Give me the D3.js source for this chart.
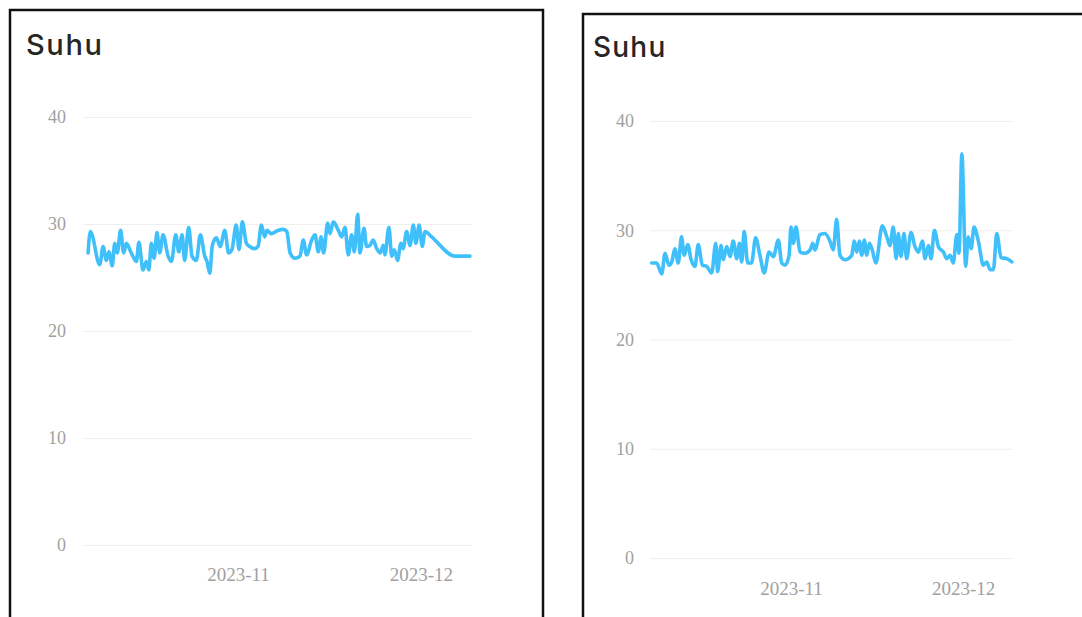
<!DOCTYPE html>
<html>
<head>
<meta charset="utf-8">
<script src="https://cdn.jsdelivr.net/npm/d3@7/dist/d3.min.js"></script>
<style>
  html, body { margin: 0; padding: 0; background: #ffffff; }
  svg { display: block; }
</style>
</head>
<body>
<svg id="chart" width="1082" height="617"></svg>
<script>
// ---------- DATA ----------
const chartTitle = "Suhu";
const yTicks = [0, 10, 20, 30, 40];
const xTickDates = ["2023-11-01 00", "2023-12-01 00"];

// Left panel
const domain1 = ["2023-10-06 14", "2023-12-09 05"];
const dates1 = ["2023-10-07 10","2023-10-07 19","2023-10-09 08","2023-10-09 21","2023-10-10 10","2023-10-10 20","2023-10-11 09","2023-10-11 19","2023-10-12 05","2023-10-12 18",
"2023-10-13 06","2023-10-13 17","2023-10-14 12","2023-10-15 08","2023-10-15 18","2023-10-16 10","2023-10-16 23","2023-10-17 09","2023-10-17 19","2023-10-18 06",
"2023-10-18 17","2023-10-19 04","2023-10-19 17","2023-10-20 13","2023-10-21 02","2023-10-21 19","2023-10-22 07","2023-10-22 20","2023-10-23 06","2023-10-23 22",
"2023-10-24 11","2023-10-25 04","2023-10-25 20","2023-10-26 13","2023-10-26 22","2023-10-27 09","2023-10-27 19","2023-10-28 11","2023-10-29 02","2023-10-29 20",
"2023-10-30 11","2023-10-31 00","2023-10-31 17","2023-11-01 04","2023-11-01 17","2023-11-02 09","2023-11-02 22","2023-11-03 18","2023-11-04 07","2023-11-04 20",
"2023-11-05 09","2023-11-05 18","2023-11-06 11","2023-11-07 13","2023-11-08 10","2023-11-09 00","2023-11-09 13","2023-11-10 08","2023-11-11 04","2023-11-11 17",
"2023-11-12 06","2023-11-13 02","2023-11-13 15","2023-11-14 04","2023-11-14 15","2023-11-15 01","2023-11-15 17","2023-11-16 02","2023-11-16 15","2023-11-17 11",
"2023-11-18 00","2023-11-18 13","2023-11-19 02","2023-11-19 15","2023-11-20 02","2023-11-20 15","2023-11-21 00","2023-11-21 16","2023-11-22 02","2023-11-22 15",
"2023-11-23 04","2023-11-23 18","2023-11-24 07","2023-11-24 20","2023-11-25 02","2023-11-25 18","2023-11-26 05","2023-11-26 15","2023-11-27 04","2023-11-27 17",
"2023-11-28 02","2023-11-28 16","2023-11-29 05","2023-11-29 18","2023-11-30 04","2023-11-30 17","2023-12-01 05","2023-12-01 16","2023-12-02 18","2023-12-06 14",
"2023-12-09 01"];
const temps1 = [27.3,29.3,26.2,27.9,26.6,27.4,26.1,28.2,27.3,29.4,
27.3,28.2,27.3,26.5,28.3,25.7,26.5,25.7,28.2,26.8,
29.2,27.3,29.0,27.0,26.5,29.0,27.4,29.0,26.6,29.7,
27.0,26.6,29.0,27.0,26.5,25.4,28.0,28.7,27.9,29.4,
27.3,27.6,29.9,27.6,30.2,28.2,27.9,27.7,27.9,29.9,
28.8,29.4,29.1,29.4,29.5,29.3,27.3,26.8,27.0,28.5,
27.1,28.5,29.0,27.4,28.8,27.3,30.1,29.1,30.2,29.4,
28.8,29.7,27.1,29.0,27.4,30.9,27.3,29.6,27.9,28.0,
28.5,27.7,27.3,28.0,27.1,29.7,27.0,27.6,26.6,28.2,
27.7,29.3,28.0,29.9,28.2,29.9,27.9,29.3,28.8,27.0,
27.0];

// Right panel
const domain2 = ["2023-10-07 10", "2023-12-09 17"];
const dates2 = ["2023-10-07 17","2023-10-08 14","2023-10-09 11","2023-10-10 01","2023-10-10 17","2023-10-11 05","2023-10-11 18","2023-10-12 08","2023-10-12 22","2023-10-13 09",
"2023-10-14 00","2023-10-14 13","2023-10-15 06","2023-10-15 20","2023-10-16 13","2023-10-17 07","2023-10-18 04","2023-10-18 21","2023-10-19 05","2023-10-19 19",
"2023-10-20 05","2023-10-20 19","2023-10-21 09","2023-10-21 22","2023-10-22 13","2023-10-23 00","2023-10-23 10","2023-10-23 20","2023-10-24 11","2023-10-25 03",
"2023-10-25 20","2023-10-26 14","2023-10-27 08","2023-10-28 04","2023-10-28 22","2023-10-29 19","2023-10-30 09","2023-10-30 23","2023-10-31 16","2023-11-01 00",
"2023-11-01 10","2023-11-01 21","2023-11-02 14","2023-11-03 11","2023-11-04 08","2023-11-04 19","2023-11-05 04","2023-11-06 01","2023-11-06 22","2023-11-07 19",
"2023-11-08 09","2023-11-08 23","2023-11-09 13","2023-11-10 10","2023-11-11 14","2023-11-12 01","2023-11-12 11","2023-11-12 22","2023-11-13 08","2023-11-13 19",
"2023-11-14 05","2023-11-14 16","2023-11-15 04","2023-11-15 19","2023-11-16 22","2023-11-17 17","2023-11-18 06","2023-11-18 20","2023-11-19 08","2023-11-19 17",
"2023-11-20 04","2023-11-20 17","2023-11-21 04","2023-11-21 22","2023-11-22 15","2023-11-23 05","2023-11-23 22","2023-11-24 09","2023-11-24 23","2023-11-25 10",
"2023-11-26 00","2023-11-26 17","2023-11-27 14","2023-11-28 04","2023-11-28 18","2023-11-29 07","2023-11-29 22","2023-11-30 07","2023-11-30 19","2023-12-01 11",
"2023-12-01 22","2023-12-02 10","2023-12-02 22","2023-12-03 16","2023-12-04 13","2023-12-05 03","2023-12-05 17","2023-12-06 07","2023-12-06 21","2023-12-07 15",
"2023-12-08 15","2023-12-09 12"];
const temps2 = [27.0,27.0,26.0,27.9,26.8,27.1,28.3,27.0,29.4,27.7,
28.7,27.4,26.7,28.7,26.8,26.7,26.1,28.8,26.2,28.6,
27.3,28.5,27.6,29.0,27.4,28.8,27.1,29.9,27.0,27.0,
29.3,27.7,26.1,28.0,27.6,29.1,27.0,26.8,27.7,30.3,
28.8,30.3,28.0,27.9,28.2,28.8,28.2,29.6,29.7,29.0,
28.2,31.0,27.7,27.3,27.7,29.0,28.0,29.0,27.7,29.1,
27.7,28.8,28.2,27.0,30.4,29.4,28.6,30.3,27.4,29.7,
27.6,29.7,27.4,29.8,28.5,28.0,29.0,27.4,28.6,27.4,
30.0,28.5,28.0,27.4,27.7,27.0,29.6,27.9,37.0,26.7,
29.4,28.3,30.3,29.0,26.8,27.1,26.4,26.4,29.7,27.5,
27.4,27.1];

// ---------- LAYOUT ----------
const parse = d3.timeParse("%Y-%m-%d %H");
const svg = d3.select("#chart");

const panels = [
  { frame: {x: 10, y: 10, w: 533, h: 640}, title: {x: 26, y: 55, size: 29, ls: 1.6},
    left: 83, right: 471, top: 117, bottom: 545, ylabX: 66, xlabY: 582,
    domain: domain1, dates: dates1, temps: temps1 },
  { frame: {x: 583, y: 14, w: 560, h: 640}, title: {x: 593, y: 57, size: 28, ls: 1.2},
    left: 650, right: 1013, top: 121, bottom: 558, ylabX: 634, xlabY: 596,
    domain: domain2, dates: dates2, temps: temps2 }
];

panels.forEach(p => {
  const g = svg.append("g");
  g.append("rect")
    .attr("x", p.frame.x).attr("y", p.frame.y)
    .attr("width", p.frame.w).attr("height", p.frame.h)
    .attr("fill", "#fff").attr("stroke", "#111").attr("stroke-width", 2.5);

  g.append("text")
    .attr("x", p.title.x).attr("y", p.title.y)
    .attr("font-family", "Inter, 'Open Sans', sans-serif")
    .attr("font-weight", 500)
    .attr("font-size", p.title.size)
    .attr("letter-spacing", p.title.ls)
    .attr("fill", "#262626")
    .text(chartTitle);

  const x = d3.scaleTime().domain(p.domain.map(parse)).range([p.left, p.right]);
  const y = d3.scaleLinear().domain([0, 40]).range([p.bottom, p.top]);

  // grid + y labels
  const yAxis = g.append("g")
    .attr("transform", `translate(${p.left},0)`)
    .call(d3.axisLeft(y).tickValues(yTicks).tickSize(-(p.right - p.left)).tickPadding(p.left - p.ylabX).tickFormat(d3.format("d")));
  yAxis.select(".domain").remove();
  yAxis.selectAll(".tick line").attr("stroke", "#efefef").attr("stroke-width", 1);
  yAxis.selectAll(".tick text")
    .attr("font-family", "'Liberation Serif', 'DejaVu Serif', serif")
    .attr("font-size", 18).attr("fill", "#a0a0a0");

  // x labels
  const xAxis = g.append("g")
    .attr("transform", `translate(0,${p.bottom})`)
    .call(d3.axisBottom(x).tickValues(xTickDates.map(parse)).tickSize(0)
      .tickPadding(p.xlabY - p.bottom - 14).tickFormat(d3.timeFormat("%Y-%m")));
  xAxis.select(".domain").remove();
  xAxis.selectAll(".tick text")
    .attr("font-family", "'Liberation Serif', 'DejaVu Serif', serif")
    .attr("font-size", 19).attr("fill", "#a0a0a0");

  const data = p.dates.map((d, i) => ({ t: parse(d), v: p.temps[i] }));
  const line = d3.line().x(d => x(d.t)).y(d => y(d.v)).curve(d3.curveMonotoneX);
  g.append("path")
    .datum(data)
    .attr("d", line)
    .attr("fill", "none")
    .attr("stroke", "#3fc0fb")
    .attr("stroke-width", 3.6)
    .attr("stroke-linejoin", "round")
    .attr("stroke-linecap", "round");
});
</script>
</body>
</html>
